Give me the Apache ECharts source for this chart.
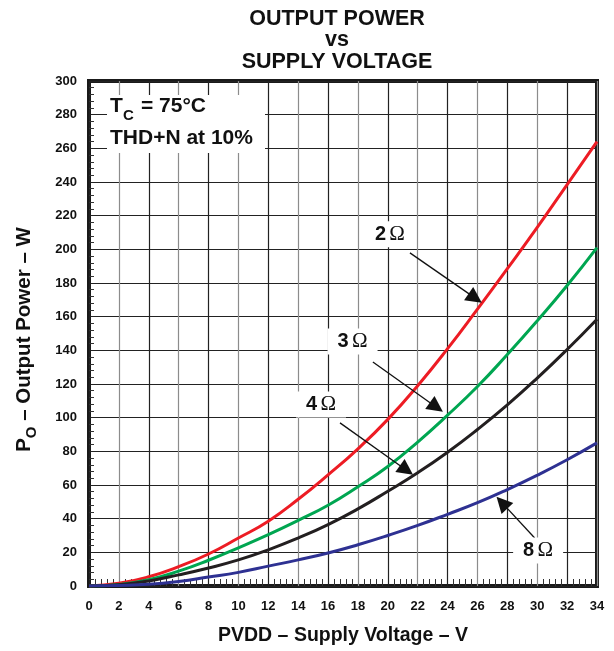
<!DOCTYPE html>
<html>
<head>
<meta charset="utf-8">
<script src="https://cdn.jsdelivr.net/npm/echarts@6/dist/echarts.min.js"></script>
<style>
  html, body { margin: 0; padding: 0; background: #ffffff; }
  #chart { width: 614px; height: 651px; }
</style>
</head>
<body>
<div id="chart"></div>
<script>
// Supply voltage (V) at which output power was sampled
const voltage = [0, 2, 4, 6, 8, 10, 12, 14, 16, 18, 20, 22, 24, 26, 28, 30, 32, 34];

// Output power (W) for each load impedance
const power2ohm = [0, 1.6, 5.5, 11.5, 19, 28.5, 38.5, 51.5, 66, 81.5, 99, 119, 141, 164.5, 188.5, 213, 238.5, 264];
const power3ohm = [0, 0.9, 3.7, 8.8, 15.3, 22.7, 30.5, 39, 48, 59, 71, 85.5, 101.5, 118.5, 137.5, 157.5, 178.5, 201];
const power4ohm = [0, 0.8, 3, 6.6, 10.7, 15.5, 21.5, 28.5, 36.5, 45.8, 56.3, 67.3, 79.5, 93, 107.6, 123.5, 140.5, 158.5];
const power8ohm = [0, 0.3, 1, 2.7, 5.3, 8.1, 11.8, 15.5, 19.6, 24.5, 30, 36, 42.6, 49.5, 57.3, 65.8, 75, 85];

// Load labels with their callout arrows, in data units [V, W]
const loadNames = ['2', '3', '4', '8'];
const labelAt = [[20.14, 208.9], [17.64, 145.3], [15.53, 107.8], [30.06, 21.1]];
const arrowFrom = [[21.48, 197.9], [19.00, 133.1], [16.80, 96.9], [29.83, 28.5]];
const arrowTo = [[25.85, 171.0], [23.25, 106.2], [21.25, 68.8], [27.64, 49.5]];

const curveColors = ['#ed1c24', '#00a651', '#231f20', '#2e3192'];
const curves = [power2ohm, power3ohm, power4ohm, power8ohm];

const SANS = '"Liberation Sans", Arial, Helvetica, sans-serif';
const SERIF = '"Liberation Serif", "Times New Roman", serif';

const chart = echarts.init(document.getElementById('chart'), null, { renderer: 'canvas' });

const series = curves.map((p, i) => ({
  name: loadNames[i] + ' Ω',
  type: 'line',
  data: voltage.map((v, k) => [v, p[k]]),
  smooth: true,
  showSymbol: false,
  lineStyle: { width: 3, color: curveColors[i] },
  itemStyle: { color: curveColors[i] },
  z: 3,
  markLine: {
    silent: true,
    symbol: ['none', 'triangle'],
    symbolSize: 16,
    label: { show: false },
    lineStyle: { color: '#111111', width: 1.3, type: 'solid' },
    data: [[{ coord: arrowFrom[i] }, { coord: arrowTo[i] }]]
  },
  markPoint: {
    silent: true,
    symbol: 'rect',
    symbolSize: [50, 26],
    itemStyle: { color: '#ffffff' },
    label: {
      show: true,
      position: 'inside',
      formatter: '{n|' + loadNames[i] + '} {o|Ω}',
      rich: {
        n: { fontFamily: SANS, fontWeight: 'bold', fontSize: 20, color: '#111' },
        o: { fontFamily: SERIF, fontSize: 21, color: '#111' }
      }
    },
    data: [{ coord: labelAt[i] }]
  }
}));

const option = {
  animation: false,
  backgroundColor: '#ffffff',
  title: {
    text: 'OUTPUT POWER\nvs\nSUPPLY VOLTAGE',
    left: 332,
    top: 3,
    textAlign: 'center',
    textStyle: {
      fontFamily: SANS, fontWeight: 'bold', fontSize: 21.5, lineHeight: 21.5, color: '#111'
    }
  },
  grid: {
    left: 89, right: 17, top: 81, bottom: 65,
    outerBoundsMode: 'none',
    containLabel: false,
    show: true, borderColor: '#1a1a1a', borderWidth: 4, backgroundColor: 'transparent'
  },
  xAxis: {
    type: 'value', min: 0, max: 34, interval: 2,
    name: 'PVDD – Supply Voltage – V',
    nameLocation: 'middle', nameGap: 40,
    nameTextStyle: { fontFamily: SANS, fontWeight: 'bold', fontSize: 19.5, color: '#111' },
    axisLine: { show: false },
    axisTick: { show: false, inside: true },
    minorTick: { show: true, splitNumber: 5, length: 7, lineStyle: { color: '#333', width: 1 } },
    axisLabel: { fontFamily: SANS, fontWeight: 'bold', fontSize: 13, color: '#111', margin: 14 },
    splitLine: { show: true, lineStyle: { color: ['#222222', '#8c8c8c'], width: 1.2 } }
  },
  yAxis: {
    type: 'value', min: 0, max: 300, interval: 20,
    name: '{a|P}{s|O}{a| – Output Power – W}',
    nameLocation: 'middle', nameGap: 50, nameRotate: 90,
    nameTextStyle: {
      padding: [0, 12, 0, 0],
      rich: {
        a: { fontFamily: SANS, fontWeight: 'bold', fontSize: 20.5, color: '#111' },
        s: { fontFamily: SANS, fontWeight: 'bold', fontSize: 15, color: '#111', padding: [15, 0, 0, 0] }
      }
    },
    axisLine: { show: false },
    axisTick: { show: false, inside: true },
    minorTick: { show: true, splitNumber: 5, length: 5, lineStyle: { color: '#333', width: 1 } },
    axisLabel: { fontFamily: SANS, fontWeight: 'bold', fontSize: 13, color: '#111', margin: 12 },
    splitLine: { show: true, lineStyle: { color: '#222222', width: 1.2 } }
  },
  graphic: [
    { type: 'rect', left: 107, top: 95, shape: { width: 158, height: 58 }, style: { fill: '#ffffff' }, z: 10 },
    { type: 'text', x: 110, y: 106, z: 11, style: { text: 'T', font: 'bold 21px ' + SANS, fill: '#111', verticalAlign: 'middle' } },
    { type: 'text', x: 123, y: 116, z: 11, style: { text: 'C', font: 'bold 15px ' + SANS, fill: '#111', verticalAlign: 'middle' } },
    { type: 'text', x: 141, y: 106, z: 11, style: { text: '= 75°C', font: 'bold 21px ' + SANS, fill: '#111', verticalAlign: 'middle' } },
    { type: 'text', x: 110, y: 138, z: 11, style: { text: 'THD+N at 10%', font: 'bold 21px ' + SANS, fill: '#111', verticalAlign: 'middle' } }
  ],
  series: series
};

chart.setOption(option);
</script>
</body>
</html>
